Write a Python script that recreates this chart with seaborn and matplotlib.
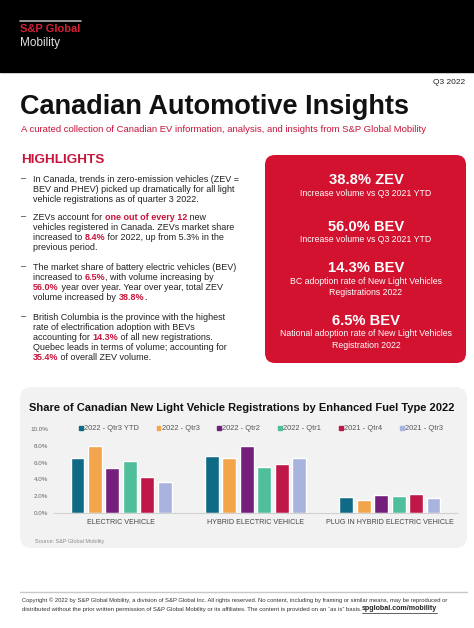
import re
import pandas as pd
import matplotlib
matplotlib.use("Agg")
import matplotlib.pyplot as plt
from matplotlib.patches import FancyBboxPatch, Rectangle, Patch
import seaborn as sns

sns.set_style("white")
plt.rcParams['font.family'] = ['Liberation Sans', 'DejaVu Sans']

W, H = 474, 628
RED = '#c8143a'
BOX_RED = '#d2122e'

# chart data (share of new light vehicle registrations, %)
categories = ["ELECTRIC VEHICLE", "HYBRID ELECTRIC VEHICLE", "PLUG IN HYBRID ELECTRIC VEHICLE"]
periods = ["2022 - Qtr3 YTD", "2022 - Qtr3", "2022 - Qtr2", "2022 - Qtr1", "2021 - Qtr4", "2021 - Qtr3"]
ytd_2022 = [6.5, 6.8, 1.9]
q3_2022 = [8.0, 6.5, 1.5]
q2_2022 = [5.3, 8.0, 2.1]
q1_2022 = [6.2, 5.5, 2.0]
q4_2021 = [4.3, 5.8, 2.3]
q3_2021 = [3.7, 6.5, 1.8]
bar_colors = ['#0f6a86', '#f2a54a', '#741f7c', '#4fbe9a', '#bf1848', '#a9b4de']
y_ticks = [0, 2, 4, 6, 8, 10]

# highlight texts, {..} = red
bullets = [
    ["In Canada, trends in zero-emission vehicles (ZEV =",
     "BEV and PHEV) picked up dramatically for all light",
     "vehicle registrations as of quarter 3 2022."],
    ["ZEVs account for {one out of every 12} new",
     "vehicles registered in Canada. ZEVs market share",
     "increased to {8.4%} for 2022, up from 5.3% in the",
     "previous period."],
    ["The market share of battery electric vehicles (BEV)",
     "increased to {6.5%}, with volume increasing by",
     "{56.0%} year over year. Year over year, total ZEV",
     "volume increased by {38.8%}."],
    ["British Columbia is the province with the highest",
     "rate of electrification adoption with BEVs",
     "accounting for {14.3%} of all new registrations.",
     "Quebec leads in terms of volume; accounting for",
     "{35.4%} of overall ZEV volume."],
]
bullet_y = [179, 217, 267, 317]

kpis = [
    ("38.8% ZEV", ["Increase volume vs Q3 2021 YTD"]),
    ("56.0% BEV", ["Increase volume vs Q3 2021 YTD"]),
    ("14.3% BEV", ["BC adoption rate of New Light Vehicles", "Registrations 2022"]),
    ("6.5% BEV", ["National adoption rate of New Light Vehicles", "Registration 2022"]),
]
kpi_y = [180, 227, 268, 321]

footer1 = ("Copyright © 2022 by S&P Global Mobility, a division of S&P Global Inc. All rights reserved. "
           "No content, including by framing or similar means, may be reproduced or")
footer2 = ("distributed without the prior written permission of S&P Global Mobility or its affiliates. "
           "The content is provided on an \u201cas is\u201d basis.")
footer_link = "spglobal.com/mobility"

fig = plt.figure(figsize=(W / 100, H / 100), dpi=100)
bg = fig.add_axes([0, 0, 1, 1])
bg.set_xlim(0, W)
bg.set_ylim(H, 0)
bg.axis('off')
renderer = fig.canvas.get_renderer()


def text_width(s, **kw):
    t = bg.text(0, 0, s + '|', **kw)
    w1 = t.get_window_extent(renderer).width
    t.set_text('|')
    w2 = t.get_window_extent(renderer).width
    t.remove()
    return w1 - w2


def fit_size(s, target, base=4.0, **kw):
    return base * target / text_width(s, fontsize=base, **kw)


def rich_line(x, y, line, size, color='#222222'):
    parts = re.split(r'(\{[^}]*\})', line)
    cur = x
    for p in parts:
        if not p:
            continue
        red = p.startswith('{')
        s = p.strip('{}')
        kw = dict(fontsize=size, fontweight='bold' if red else 'normal')
        bg.text(cur, y, s, color=RED if red else color, va='center', ha='left', **kw)
        cur += text_width(s, **kw)


# header
bg.add_patch(Rectangle((0, 0), W, 72, color='black'))
bg.plot([20, 81], [21, 21], color='#b0b0b0', lw=1.2)
bg.text(20, 29, "S&P Global", color='#d51f36', fontsize=8, fontweight='bold', va='center')
bg.text(20, 43, "Mobility", color='#e0e0e0', fontsize=8.5, va='center')

bg.text(465, 83, "Q3 2022", fontsize=6, ha='right', va='center', color='#222222')
bg.text(20, 107, "Canadian Automotive Insights", fontsize=19.5, fontweight='bold',
        va='center', color='#111111')
bg.text(21, 130, "A curated collection of Canadian EV information, analysis, and insights from S&P Global Mobility",
        fontsize=6.8, va='center', color=RED)

# highlights
bg.text(21, 160, "HIGHLIGHTS", fontsize=9.7, fontweight='bold', color=RED, va='center')
for lines, y0 in zip(bullets, bullet_y):
    bg.text(21, y0, "–", fontsize=6.6, va='center', color='#222222')
    for i, ln in enumerate(lines):
        rich_line(33, y0 + i * 10, ln, 6.5)

# KPI box
bg.add_patch(FancyBboxPatch((265, 155), 201, 208, boxstyle="round,pad=0,rounding_size=10",
                            color=BOX_RED, lw=0))
for (big, subs), y0 in zip(kpis, kpi_y):
    bg.text(366, y0, big, fontsize=10.6, fontweight='bold', color='white', ha='center', va='center')
    for i, s in enumerate(subs):
        bg.text(366, y0 + 13 + i * 11.5, s, fontsize=6.3, color='white', ha='center', va='center')

# chart panel
bg.add_patch(FancyBboxPatch((20, 387), 447, 161, boxstyle="round,pad=0,rounding_size=12",
                            color='#f2f2f2', lw=0))
bg.text(242, 408, "Share of Canadian New Light Vehicle Registrations by Enhanced Fuel Type 2022",
        fontsize=8.0, fontweight='bold', ha='center', va='center', color='#111111')
bg.text(35, 542, "Source: S&P Global Mobility", fontsize=4.0, color='#8c8c8c', va='center')

df = pd.DataFrame({
    'category': categories * 6,
    'period': [p for p in periods for _ in categories],
    'share': ytd_2022 + q3_2022 + q2_2022 + q1_2022 + q4_2021 + q3_2021,
})

ax = fig.add_axes([54 / W, 1 - 513 / H, 403 / W, 84 / H])
ax.patch.set_alpha(0)
sns.barplot(data=df, x='category', y='share', hue='period', palette=bar_colors,
            saturation=1, width=0.78, gap=0.2, ax=ax, legend=False)
ax.set_xlim(-0.5, 2.5)
ax.set_ylim(0, 10)
ax.set_yticks(y_ticks)
ax.set_yticklabels(['%.1f%%' % v for v in y_ticks])
ax.set_xlabel('')
ax.set_ylabel('')
for s in ['top', 'right', 'left']:
    ax.spines[s].set_visible(False)
ax.spines['bottom'].set_color('#d0d0d0')
ax.spines['bottom'].set_linewidth(0.8)
ax.tick_params(axis='y', length=0, labelsize=4.5, labelcolor='#666666', pad=4)
ax.tick_params(axis='x', length=0, labelsize=5.1, labelcolor='#444444', pad=4)

handles = [Patch(color=c) for c in bar_colors]
bg.legend(handles, periods, loc='center', bbox_to_anchor=(261, 429), bbox_transform=bg.transData,
          ncol=6, frameon=False, fontsize=5.4, handlelength=0.5, handleheight=0.5,
          handletextpad=0.15, columnspacing=2.4, labelcolor='#555555')

# footer
bg.plot([20, 467], [592, 592], color='#c8c8c8', lw=1)
fs1 = fit_size(footer1, 427)
bg.text(22, 600, footer1, fontsize=fs1, va='center', color='#333333')
fs2 = fit_size(footer2, 336)
bg.text(22, 609, footer2, fontsize=fs2, va='center', color='#333333')
fsl = fit_size(footer_link, 75, fontweight='bold')
bg.text(362, 609, footer_link, fontsize=fsl, fontweight='bold', va='center', color='#222222')
bg.plot([362, 437], [612.8, 612.8], color='#222222', lw=0.5)

fig.savefig('out.png', dpi=100)
